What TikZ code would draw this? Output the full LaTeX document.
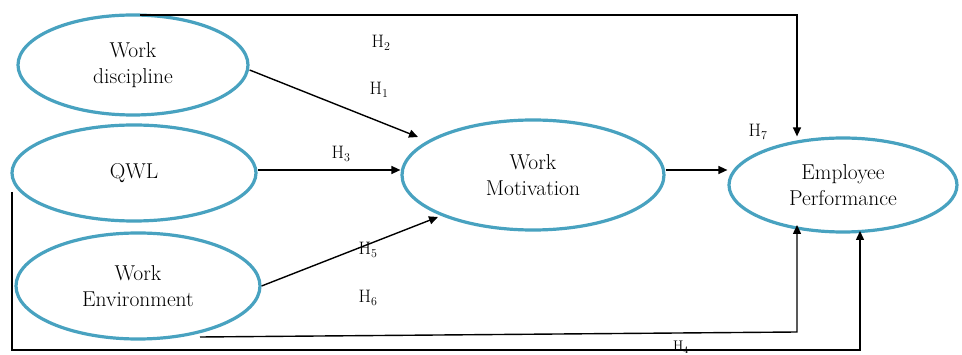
\documentclass[tikz,border=0pt]{standalone}
\usepackage{fontspec}
\setmainfont{Latin Modern Roman}
\usetikzlibrary{arrows.meta,shapes.geometric}
\definecolor{ellblue}{RGB}{72,162,192}
\begin{document}
\begin{tikzpicture}[x=1pt,y=-1pt,
  var/.style={draw=ellblue,line width=3.2pt,ellipse,minimum width=#1,align=center,font=\fontsize{21.5}{26}\selectfont,inner sep=0pt},
  arr/.style={line width=1.4pt,-{Triangle[length=9pt,width=8pt]}},
  hl/.style={font=\fontsize{18}{20}\selectfont,inner sep=0pt}]
\clip (0,0) rectangle (962,355);
\fill[white] (0,0) rectangle (962,355);
\node[var=230pt,minimum height=100pt] (wd) at (133,65) {Work\\discipline};
\node[var=244pt,minimum height=96pt] (qwl) at (134,173) {QWL};
\node[var=244pt,minimum height=106pt] (we) at (138,286) {Work\\Environment};
\node[var=262pt,minimum height=110pt] (wm) at (533,175) {Work\\Motivation};
\node[var=228pt,minimum height=94pt] (ep) at (843,185) {Employee\\Performance};
% connectors
\coordinate (t1) at (140,15);
\coordinate (t2) at (797,15);
\draw[arr] (t1) -- (t2) -- (ep.north -| t2);
\draw[arr] (wd.east) ++(0,5) coordinate (wde) -- (418,137) coordinate (wmt);
\draw[arr] (qwl.east |- 0,170) coordinate (qe) -- (wm.west |- qe);
\draw[arr] (we.east) ++(0,0) coordinate (wee) -- (438,217) coordinate (wmb);
\draw[arr] (wm.east |- 0,170) coordinate (me) -- (ep.west |- me);
\coordinate (q1) at (12,192);
\coordinate (q2) at (12,350);
\coordinate (q3) at (860,350);
\draw[arr] (q1) -- (q2) -- (q3) -- (860,231) coordinate (ep2);
\coordinate (w1) at (200,337);
\coordinate (w2) at (797,332);
\draw[arr] (w1) -- (w2) -- (797,225) coordinate (ep1);
% labels
\node[hl] (h2) at (381,43) {H$_2$};
\node[hl] (h1) at (379,90) {H$_1$};
\node[hl] (h3) at (341,154) {H$_3$};
\node[hl] (h7) at (758,132) {H$_7$};
\node[hl] (h5) at (368,250) {H$_5$};
\node[hl] (h6) at (368,298) {H$_6$};
\node[hl,font=\fontsize{14}{16}\selectfont,anchor=base] (h4) at (681,351) {H$_4$};
\end{tikzpicture}
\end{document}
